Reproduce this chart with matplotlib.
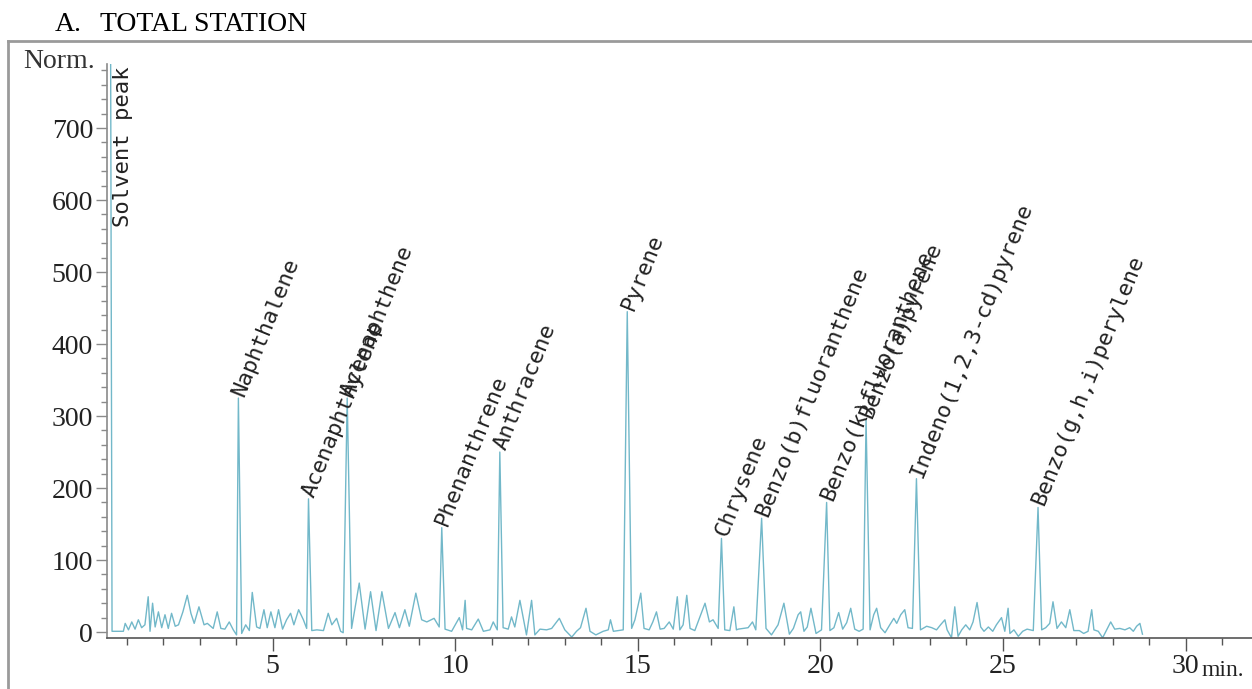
import matplotlib.pyplot as plt
from matplotlib.lines import Line2D
from matplotlib.ticker import MultipleLocator

plt.rcParams["font.family"] = ["Liberation Serif", "DejaVu Serif"]

# labelled PAH peaks: retention time (min) and normalised height
compounds = ["Naphthalene", "Acenaphthylene", "Acenaphthene", "Phenanthrene",
             "Anthracene", "Pyrene", "Chrysene", "Benzo(b)fluoranthene",
             "Benzo(k)fluoranthene", "Benzo(a)pyrene", "Indeno(1,2,3-cd)pyrene",
             "Benzo(g,h,i)perylene"]
rt = [4.06, 5.98, 7.04, 9.63, 11.22, 14.71, 17.29, 18.39, 20.17, 21.25, 22.63, 25.96]
height = [325, 185, 325, 145, 250, 445, 130, 158, 180, 295, 213, 173]

solvent_rt = 0.56
solvent_height = 830

# baseline between the peaks
base_t = [0.60, 0.91, 0.96, 1.05, 1.14, 1.23, 1.32, 1.41, 1.50, 1.59, 1.64,
          1.71, 1.78, 1.87, 1.96, 2.05, 2.14, 2.23, 2.33, 2.42, 2.54, 2.66,
          2.76, 2.85, 2.98, 3.12, 3.21, 3.37, 3.48, 3.58, 3.69, 3.81, 3.92,
          4.01, 4.15, 4.26, 4.36, 4.44, 4.56, 4.65, 4.76, 4.85, 4.95, 5.06,
          5.16, 5.27, 5.38, 5.49, 5.58, 5.71, 5.84, 5.93, 6.07, 6.21, 6.39,
          6.52, 6.62, 6.75, 6.86, 6.93, 7.16, 7.37, 7.53, 7.68, 7.83, 7.99,
          8.17, 8.35, 8.47, 8.62, 8.74, 8.92, 9.08, 9.22, 9.42, 9.56, 9.72,
          9.90, 10.11, 10.20, 10.27, 10.31, 10.45, 10.63, 10.77, 10.95, 11.04,
          11.15, 11.31, 11.45, 11.54, 11.63, 11.77, 11.95, 12.09, 12.18, 12.32,
          12.50, 12.64, 12.85, 13.00, 13.19, 13.32, 13.43, 13.58, 13.69, 13.85,
          14.05, 14.19, 14.25, 14.33, 14.46, 14.60, 14.83, 14.92, 15.08, 15.17,
          15.31, 15.41, 15.51, 15.61, 15.72, 15.86, 15.97, 16.08, 16.15, 16.24,
          16.34, 16.43, 16.56, 16.70, 16.84, 16.96, 17.06, 17.20, 17.38, 17.52,
          17.63, 17.70, 17.75, 17.89, 18.02, 18.14, 18.23, 18.51, 18.66, 18.84,
          19.00, 19.15, 19.26, 19.39, 19.46, 19.55, 19.64, 19.74, 19.88, 20.03,
          20.26, 20.37, 20.50, 20.61, 20.72, 20.83, 20.94, 21.06, 21.17, 21.36,
          21.46, 21.54, 21.65, 21.77, 21.90, 22.01, 22.09, 22.20, 22.31, 22.40,
          22.52, 22.74, 22.91, 23.05, 23.18, 23.29, 23.41, 23.47, 23.59, 23.68,
          23.77, 23.87, 23.98, 24.09, 24.18, 24.29, 24.39, 24.48, 24.60, 24.72,
          24.82, 24.96, 25.05, 25.14, 25.19, 25.30, 25.42, 25.54, 25.66, 25.83,
          26.06, 26.17, 26.28, 26.37, 26.48, 26.60, 26.72, 26.83, 26.94, 27.09,
          27.21, 27.33, 27.43, 27.49, 27.61, 27.73, 27.84, 27.95, 28.06, 28.20,
          28.34, 28.47, 28.57, 28.66, 28.75, 28.82]
base_v = [1, 1, 12, 3, 14, 4, 17, 6, 10, 49, 1,
          40, 7, 28, 6, 24, 5, 26, 8, 10, 28, 51,
          26, 12, 35, 10, 12, 5, 28, 5, 4, 14, 3,
          -4, -2, 10, 2, 55, 7, 5, 31, 6, 28, 6,
          31, 4, 17, 26, 10, 31, 17, 5, 2, 3, 2,
          26, 10, 19, 1, -1, 5, 68, 4, 56, 2, 56,
          5, 27, 6, 31, 8, 54, 17, 14, 19, 7, 4,
          1, 20, 3, 44, 5, 3, 18, 1, 3, 14,
          3, 6, 4, 21, 7, 44, -4, 44, -4, 4,
          3, 5, 19, 3, -7, 1, 6, 33, 1, -4,
          1, 3, 17, 1, 2, 3, 5, 17, 54, 5,
          3, 14, 28, 4, 5, 14, 4, 49, 3, 10,
          51, 5, 2, 21, 40, 14, 17, 5, 3, 2,
          35, 3, 4, 5, 6, 14, 3, 5, -4, 10,
          40, -3, 5, 24, 28, 1, 7, 33, -2, 3,
          2, 6, 27, 4, 13, 33, 4, 1, 4, 3,
          24, 33, 6, -1, 10, 19, 12, 24, 31, 6,
          5, 3, 8, 6, 3, 10, 17, 3, -8, 35,
          -6, 3, 10, 3, 14, 41, 7, 1, 7, 1,
          10, 20, 1, 33, -2, 3, -6, 1, 4, 2,
          3, 6, 12, 42, 5, 14, 6, 31, 2, 2,
          -2, 1, 31, 3, 1, -8, 3, 14, 4, 5,
          3, 6, 1, 8, 12, -3]

x_major = [5, 10, 15, 20, 25, 30]
y_major = [0, 100, 200, 300, 400, 500, 600, 700]

trace = sorted(zip(base_t + rt + [solvent_rt], base_v + height + [solvent_height]))
t = [p[0] for p in trace]
v = [p[1] for p in trace]

fig = plt.figure(figsize=(12.52, 6.89), dpi=100)
ax = fig.add_axes([0.0855, 0.0733, 0.9145, 0.8338])
ax.plot(t, v, color="#72b8c9", lw=1.0)

ax.set_xlim(0.463, 31.82)
ax.set_ylim(-9, 789)

for s in ("top", "right"):
    ax.spines[s].set_visible(False)
ax.spines["left"].set_color("#8a8a8a")
ax.spines["bottom"].set_color("#555555")
ax.spines["left"].set_linewidth(1.2)
ax.spines["bottom"].set_linewidth(1.2)

ax.set_xticks(x_major)
ax.set_xticklabels([str(x) for x in x_major])
ax.xaxis.set_minor_locator(MultipleLocator(1))
ax.set_yticks(y_major)
ax.set_yticklabels([str(y) for y in y_major])
ax.yaxis.set_minor_locator(MultipleLocator(20))
ax.tick_params(axis="x", which="major", length=9, width=1.0, color="#555555",
               labelsize=20, labelcolor="#222222", pad=2)
ax.tick_params(axis="x", which="minor", length=5, width=1.0, color="#555555")
ax.tick_params(axis="y", which="major", length=8, width=1.0, color="#8a8a8a",
               labelsize=20, labelcolor="#222222", pad=2)
ax.tick_params(axis="y", which="minor", length=4.5, width=1.0, color="#8a8a8a")

# peak names
mono = "DejaVu Sans Mono"
for name, x, y in zip(compounds, rt, height):
    ax.text(x, y + 4, name, rotation=68, rotation_mode="anchor", ha="left",
            va="center", family=mono, fontsize=16, color="#222222")
ax.text(solvent_rt + 0.07, 562, "Solvent peak", rotation=90, rotation_mode="anchor",
        ha="left", va="top", family=mono, fontsize=16, color="#222222")

fig.text(95 / 1252, 1 - 68 / 689, "Norm.", ha="right", va="baseline",
         fontsize=20, color="#333333")
fig.text(1201 / 1252, 1 - 676 / 689, "min.", ha="left", va="baseline",
         fontsize=17, color="#222222")

# heading and panel frame
fig.text(55 / 1252, 1 - 31 / 689, "A.", ha="left", va="baseline", fontsize=20)
fig.text(100 / 1252, 1 - 31 / 689, "TOTAL STATION", ha="left", va="baseline", fontsize=20)
fig.add_artist(Line2D([8 / 1252, 1.0], [1 - 41 / 689, 1 - 41 / 689],
                      transform=fig.transFigure, color="#9a9a9a", lw=2))
fig.add_artist(Line2D([8 / 1252, 8 / 1252], [0, 1 - 41 / 689],
                      transform=fig.transFigure, color="#9a9a9a", lw=2))

fig.savefig("out.png", dpi=100)
